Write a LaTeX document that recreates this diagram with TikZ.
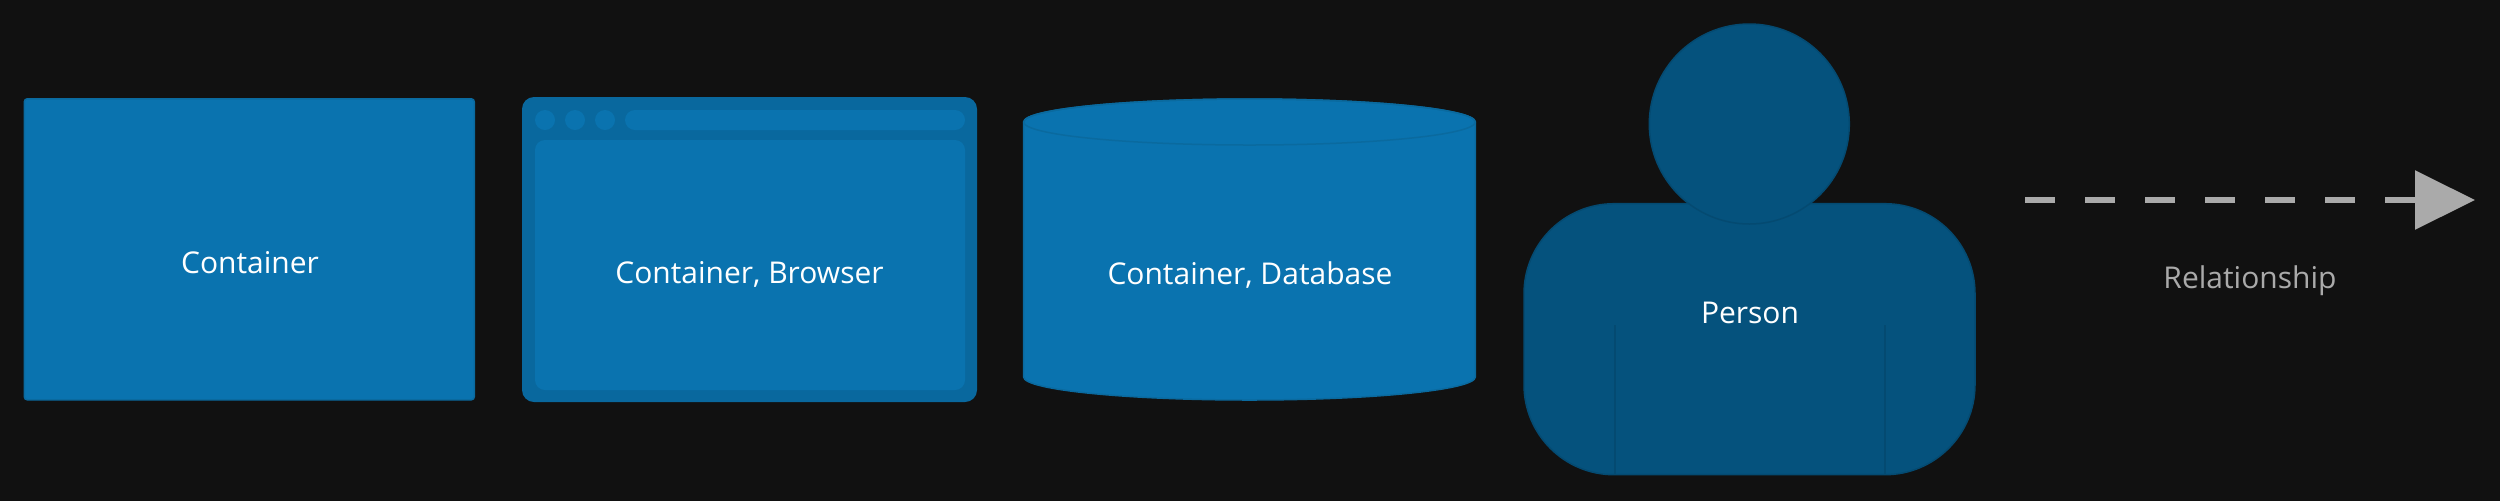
\documentclass[tikz,border=0pt]{standalone}
\usepackage{fontspec}
\setmainfont{Open Sans}
\usetikzlibrary{arrows.meta}
\definecolor{pagebg}{HTML}{111111}
\definecolor{containerfill}{HTML}{0A73AF}
\definecolor{containerline}{HTML}{0A6A9F}
\definecolor{frameFill}{HTML}{09689E}
\definecolor{personfill}{HTML}{05527D}
\definecolor{personline}{HTML}{044A71}
\definecolor{relgray}{HTML}{AAAAAA}

\begin{document}
\begin{tikzpicture}[
  x=0.5pt,y=-0.5pt,
  every node/.style={inner sep=0pt,outer sep=0pt},
  shapebox/.style={draw=containerline,fill=containerfill,line width=0.75pt},
  flatbox/.style={fill=containerfill,rounded corners=5pt},
  persona/.style={draw=personline,fill=personfill,line width=0.75pt},
  caption/.style={anchor=base,text=white,font=\fontsize{15pt}{18pt}\selectfont},
  relarrow/.style={draw=relgray,line width=3pt,dash pattern=on 15pt off 15pt,
    -{Triangle[length=30pt,width=29pt]}},
  ]
  \useasboundingbox (0,0) rectangle (2500,500);
  \fill[pagebg] (-4,-4) rectangle (2504,504);

  \node(container)[shapebox,rounded corners=1.5pt,minimum width=225pt,minimum height=150.5pt]
    at (249.3,249.3){};
  \node[caption] at (250,273.2){Container};

  \node(browser)[fill=frameFill,rounded corners=6pt,minimum width=227.5pt,minimum height=152.5pt]
    at (749.5,249.5){};
  \foreach \i/\x in {1/545,2/575,3/605}
    \node(dot\i)[circle,fill=containerfill,minimum size=10pt] at (\x,120){};
  \node(urlbar)[fill=containerfill,rounded corners=5pt,minimum width=170pt,minimum height=10pt]
    at (795,120){};
  \node(page)[flatbox,minimum width=215pt,minimum height=125pt] at (750,265){};
  \node[caption] at (749.5,283.2){Container, Browser};

  \path[shapebox] (1023.7,122) -- (1023.7,377)
    arc[start angle=180,end angle=0,x radius=225.8,y radius=23]
    -- (1475.3,122)
    arc[start angle=0,end angle=-180,x radius=225.8,y radius=23] -- cycle;
  \draw[containerline,line width=0.75pt] (1249.5,122) ellipse[x radius=225.8,y radius=23];
  \node[caption] at (1250,284.2){Container, Database};

  \node(body)[persona,rounded corners=45pt,minimum width=225.5pt,minimum height=135.5pt]
    at (1749.5,339.2){};
  \node(head)[persona,circle,minimum size=100pt] at (1749.3,124){};
  \coordinate(armleft) at (1615,325);
  \coordinate(armright) at (1885,325);
  \draw[personline,line width=0.6pt] (armleft) -- (armleft|-body.south);
  \draw[personline,line width=0.6pt] (armright) -- (armright|-body.south);
  \node[caption] at (1750,323.2){Person};

  \coordinate(relstart) at (2025,200);
  \coordinate(relend) at (2475,200);
  \draw[relarrow] (relstart) -- (relend);
  \node[caption,text=relgray] at (2250,288.2){Relationship};
\end{tikzpicture}
\end{document}
